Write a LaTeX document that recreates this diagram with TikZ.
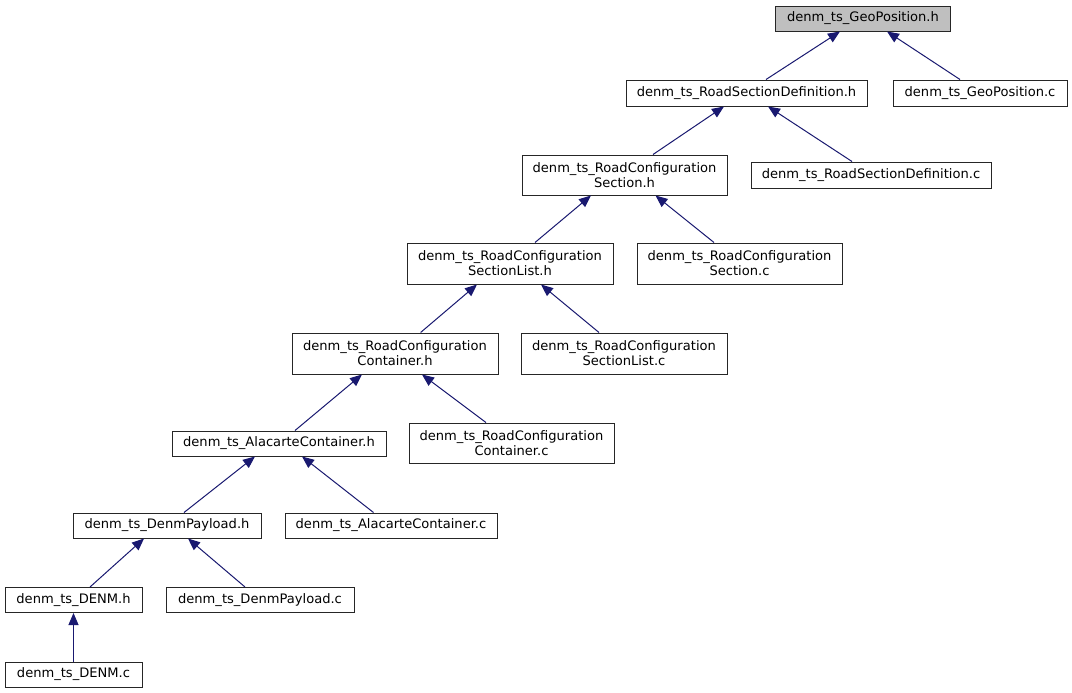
\documentclass[tikz,border=0pt]{standalone}
\usepackage{fontspec}
\setmainfont{DejaVu Sans}
\usetikzlibrary{arrows.meta,calc}
\definecolor{edgeblue}{HTML}{191970}
\definecolor{rootgray}{HTML}{BFBFBF}
\tikzset{
  box/.style 2 args={draw=black!85, line width=0.75pt, fill=white, inner sep=0pt,
    align=center, minimum width=#1*0.75pt, minimum height=#2*0.75pt,
    font=\fontsize{9.8pt}{11.25pt}\selectfont},
  dep/.style={draw=edgeblue, line width=0.75pt, {Triangle[length=9pt,width=7.5pt]}-}
}
\begin{document}
\begin{tikzpicture}[x=0.75pt,y=-0.75pt]
\path[use as bounding box,fill=white] (0,0) rectangle (1072,693);
\node[box={175}{25},fill=rootgray] (geoh) at (863,18.5) {denm\_ts\_GeoPosition.h};
\node[box={241}{26}] (rsdh) at (746.5,93) {denm\_ts\_RoadSectionDefinition.h};
\node[box={174}{26}] (geoc) at (980,93) {denm\_ts\_GeoPosition.c};
\node[box={205}{40}] (rcsh) at (624.5,175) {denm\_ts\_RoadConfiguration\\Section.h};
\node[box={240}{26}] (rsdc) at (871,175) {denm\_ts\_RoadSectionDefinition.c};
\node[box={206}{41}] (rcslh) at (510,263.5) {denm\_ts\_RoadConfiguration\\SectionList.h};
\node[box={205}{41}] (rcsc) at (739.5,263.5) {denm\_ts\_RoadConfiguration\\Section.c};
\node[box={206}{41}] (rcch) at (395,353.5) {denm\_ts\_RoadConfiguration\\Container.h};
\node[box={206}{41}] (rcslc) at (624,353.5) {denm\_ts\_RoadConfiguration\\SectionList.c};
\node[box={214}{25}] (ach) at (279,443.5) {denm\_ts\_AlacarteContainer.h};
\node[box={205}{40}] (rccc) at (511.5,443) {denm\_ts\_RoadConfiguration\\Container.c};
\node[box={188}{25}] (dph) at (167,525.5) {denm\_ts\_DenmPayload.h};
\node[box={212}{25}] (acc) at (391,525.5) {denm\_ts\_AlacarteContainer.c};
\node[box={137}{25}] (denmh) at (73.5,600) {denm\_ts\_DENM.h};
\node[box={188}{25}] (dpc) at (260,600) {denm\_ts\_DenmPayload.c};
\node[box={137}{25}] (denmc) at (73.5,674.5) {denm\_ts\_DENM.c};

\draw[dep] ($(geoh.south)+(-23,0)$) -- ($(rsdh.north)+(19.5,0)$);
\draw[dep] ($(geoh.south)+(24,0)$) -- ($(geoc.north)+(-20,0)$);
\draw[dep] ($(rsdh.south)+(-22.5,0)$) -- ($(rcsh.north)+(28.5,0)$);
\draw[dep] ($(rsdh.south)+(21.5,0)$) -- ($(rsdc.north)+(-19,0)$);
\draw[dep] ($(rcsh.south)+(-33.5,0)$) -- ($(rcslh.north)+(25,0)$);
\draw[dep] ($(rcsh.south)+(31,0)$) -- ($(rcsc.north)+(-25.5,0)$);
\draw[dep] ($(rcslh.south)+(-33,0)$) -- ($(rcch.north)+(25.6,0)$);
\draw[dep] ($(rcslh.south)+(31,0)$) -- ($(rcslc.north)+(-25,0)$);
\draw[dep] ($(rcch.south)+(-33,0)$) -- ($(ach.north)+(16,0)$);
\draw[dep] ($(rcch.south)+(27,0)$) -- ($(rccc.north)+(-25.5,0)$);
\draw[dep] ($(ach.south)+(-24,0)$) -- ($(dph.north)+(17,0)$);
\draw[dep] ($(ach.south)+(23,0)$) -- ($(acc.north)+(-17.5,0)$);
\draw[dep] ($(dph.south)+(-23,0)$) -- ($(denmh.north)+(16.5,0)$);
\draw[dep] ($(dph.south)+(21,0)$) -- ($(dpc.north)+(-15,0)$);
\draw[dep] (denmh.south) -- (denmc.north);
\end{tikzpicture}
\end{document}
